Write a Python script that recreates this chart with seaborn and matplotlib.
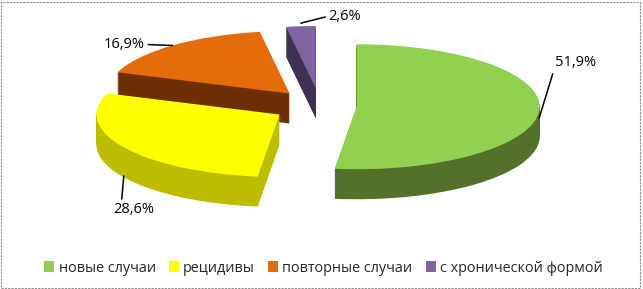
import numpy as np
import matplotlib
matplotlib.use("Agg")
import matplotlib.pyplot as plt
import matplotlib.patches as mpatches
import seaborn as sns

# ---- data ----
categories = ["новые случаи", "рецидивы", "повторные случаи", "с хронической формой"]
values = [51.9, 28.6, 16.9, 2.6]
value_labels = ["51,9%", "28,6%", "16,9%", "2,6%"]

# ---- style ----
top_colors = ["#92D050", "#FFFF00", "#E46C0A", "#8064A2"]
side_colors = ["#55702A", "#BDBD00", "#6E2E06", "#3F3151"]
explode = [0.20, 0.26, 0.26, 0.28]

sns.set_theme(style="white")
plt.rcParams["font.family"] = ["Open Sans", "DejaVu Sans"]

W, H = 643, 289
fig = plt.figure(figsize=(W / 100, H / 100), dpi=100)
ax = fig.add_axes([0, 0, 1, 1])

# pixel geometry of the ellipse
rx_px, ry_px = 183.0, 62.5
cx_px, cy_px = 320.0, 106.0
depth = 30.0 / ry_px

# side layers (3D depth)
n_layers = 30
for d in np.linspace(depth, 0.0, n_layers, endpoint=False):
    ax.pie(values, explode=explode, startangle=90, counterclock=False,
           colors=side_colors, center=(0, -d),
           wedgeprops=dict(linewidth=0, antialiased=True))

# top faces
wedges, _ = ax.pie(values, explode=explode, startangle=90, counterclock=False,
                   colors=top_colors, center=(0, 0),
                   wedgeprops=dict(linewidth=0, antialiased=True))

ax.set_xlim(-cx_px / rx_px, (W - cx_px) / rx_px)
ax.set_ylim(-(H - cy_px) / ry_px, cy_px / ry_px)
ax.set_aspect("auto")
ax.axis("off")

# data labels with leader lines
anchor_drop = [0.12, depth * 0.95, 0.0, -0.05]
text_offsets = [(36, 55), (10, -34), (-48, 1), (44, 7)]
rel_positions = [(0.0, 0.2), (0.2, 1.0), (1.0, 0.5), (0.0, 0.5)]
for w, lab, drop, off, rp in zip(wedges, value_labels, anchor_drop,
                                 text_offsets, rel_positions):
    mid = np.deg2rad((w.theta1 + w.theta2) / 2.0)
    x = w.center[0] + w.r * np.cos(mid)
    y = w.center[1] + w.r * np.sin(mid) - drop
    ax.annotate(lab, xy=(x, y), xytext=off, textcoords="offset pixels",
                ha="center", va="center", fontsize=10.5, color="black",
                arrowprops=dict(arrowstyle="-", color="black", lw=1.1,
                                shrinkA=0, shrinkB=0, relpos=rp))

# legend
fig.legend(wedges, categories, loc="center", bbox_to_anchor=(0.503, 1 - 268 / H),
           ncol=4, frameon=False, fontsize=10.4, handlelength=0.7,
           handleheight=0.7, handletextpad=0.3, columnspacing=0.9)

# chart border
fig.patches.append(mpatches.Rectangle((0.002, 0.004), 0.993, 0.99,
                                      transform=fig.transFigure, fill=False,
                                      ec="#8C8C8C", lw=0.8, ls=(0, (2, 1))))

fig.savefig("out.png", dpi=100)
